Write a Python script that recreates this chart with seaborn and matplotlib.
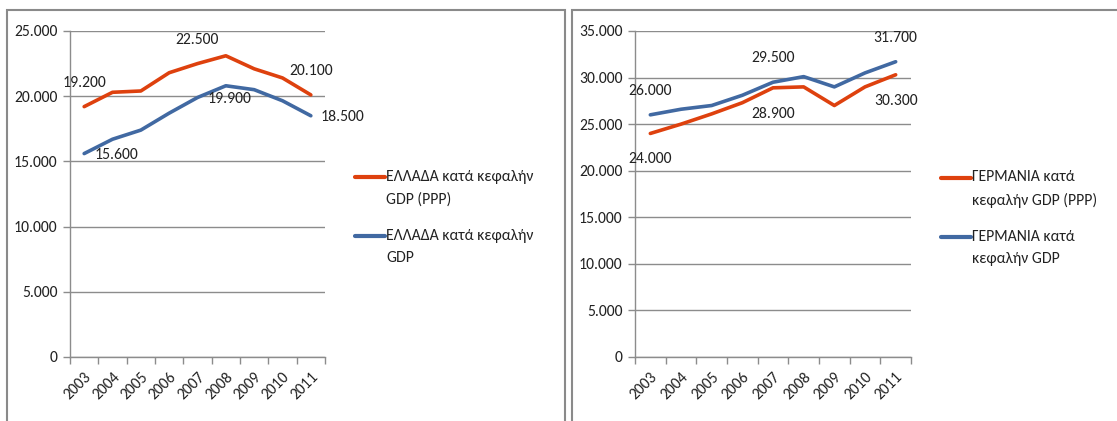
import numpy as np
import pandas as pd
import matplotlib
matplotlib.use('Agg')
import matplotlib.pyplot as plt
from matplotlib.patches import Rectangle
from matplotlib.lines import Line2D
from matplotlib.legend_handler import HandlerLine2D
from matplotlib.ticker import FuncFormatter
import seaborn as sns

years = ['2003', '2004', '2005', '2006', '2007', '2008', '2009', '2010', '2011']

# Greece, per capita
gr_ppp = [19200, 20300, 20400, 21800, 22500, 23100, 22100, 21400, 20100]
gr_gdp = [15600, 16700, 17400, 18700, 19900, 20800, 20500, 19650, 18500]
gr_names = ['ΕΛΛΑΔΑ κατά κεφαλήν\nGDP (PPP)', 'ΕΛΛΑΔΑ κατά κεφαλήν\nGDP']

# Germany, per capita
de_ppp = [24000, 25000, 26100, 27300, 28900, 29000, 27000, 29000, 30300]
de_gdp = [26000, 26600, 27000, 28100, 29500, 30100, 29000, 30500, 31700]
de_names = ['ΓΕΡΜΑΝΙΑ κατά\nκεφαλήν GDP (PPP)', 'ΓΕΡΜΑΝΙΑ κατά\nκεφαλήν GDP']

labelled = [0, 4, 8]

sns.set_theme(style='white')
plt.rcParams['font.family'] = ['Carlito', 'Liberation Sans', 'DejaVu Sans']

RED = '#DE410E'
BLUE = '#4169A2'
GREY = '#8C8C8C'
TXT = '#222222'
FS = 11.3


class FirstLineHandler(HandlerLine2D):
    # put the legend line next to the first text line, like excel does
    def create_artists(self, legend, orig_handle, xdescent, ydescent, width, height, fontsize, trans):
        arts = super().create_artists(legend, orig_handle, xdescent, ydescent, width, height, fontsize, trans)
        for a in arts:
            a.set_ydata(np.asarray(a.get_ydata()) + 8.0)
        return arts


def fmt(v, pos=None):
    return f'{int(round(v)):,}'.replace(',', '.')


def make_df(ppp, gdp, names):
    rows = []
    for i, y in enumerate(years):
        rows.append((i, ppp[i], names[0]))
        rows.append((i, gdp[i], names[1]))
    return pd.DataFrame(rows, columns=['idx', 'value', 'series'])


def draw_panel(ax, ppp, gdp, names, ymax, ppp_off, gdp_off, leg_xy):
    df = make_df(ppp, gdp, names)
    sns.lineplot(data=df, x='idx', y='value', hue='series', hue_order=names,
                 palette=[RED, BLUE], linewidth=2.6, legend=False, ax=ax)
    ax.set_xlim(-0.5, len(years) - 0.5)
    ax.set_ylim(0, ymax)
    ax.set_yticks(np.arange(0, ymax + 1, 5000))
    ax.yaxis.set_major_formatter(FuncFormatter(fmt))
    ax.set_xticks(range(len(years)))
    ax.set_xticklabels(years, rotation=45, ha='right', rotation_mode='anchor')
    ax.set_xticks(np.arange(-0.5, len(years)), minor=True)
    ax.tick_params(axis='x', which='major', length=0, pad=9, labelsize=FS, labelcolor=TXT)
    ax.tick_params(axis='x', which='minor', bottom=True, length=5, width=1, color=GREY)
    ax.tick_params(axis='y', left=True, length=5, width=1, color=GREY, pad=4,
                   labelsize=FS, labelcolor=TXT)
    ax.yaxis.grid(True, color=GREY, linewidth=1)
    ax.set_axisbelow(True)
    ax.set_xlabel('')
    ax.set_ylabel('')
    for s in ['top', 'right']:
        ax.spines[s].set_visible(False)
    for s in ['left', 'bottom']:
        ax.spines[s].set_color(GREY)
        ax.spines[s].set_linewidth(1)

    for i in labelled:
        ax.annotate(fmt(ppp[i]), (i, ppp[i]), xytext=ppp_off, textcoords='offset pixels',
                    ha='center', va='center', fontsize=FS, color=TXT)
        ax.annotate(fmt(gdp[i]), (i, gdp[i]), xytext=gdp_off, textcoords='offset pixels',
                    ha='center', va='center', fontsize=FS, color=TXT)

    handles = [Line2D([], [], color=RED, lw=3), Line2D([], [], color=BLUE, lw=3)]
    leg = fig.legend(handles, names, loc='upper left', bbox_to_anchor=leg_xy,
                     bbox_transform=fig.transFigure, frameon=False, borderpad=0,
                     handlelength=1.9, handletextpad=0.1, labelspacing=1.4, fontsize=FS,
                     handler_map={Line2D: FirstLineHandler()})
    for t in leg.get_texts():
        t.set_linespacing(1.75)
        t.set_color(TXT)


fig = plt.figure(figsize=(11.17, 4.21), dpi=100)
W, H = 1117, 421

# chart frames
fig.patches.append(Rectangle((7 / W, -0.1), (565 - 7) / W, 1.1 - 10 / H, transform=fig.transFigure,
                             fill=False, edgecolor='#8A8A8A', linewidth=1.5))
fig.patches.append(Rectangle((572 / W, -0.1), 0.6, 1.1 - 10 / H, transform=fig.transFigure,
                             fill=False, edgecolor='#8A8A8A', linewidth=1.5))

ax1 = fig.add_axes([70 / W, 1 - 357 / H, (325 - 70) / W, (357 - 31) / H])
ax2 = fig.add_axes([635 / W, 1 - 357 / H, (911 - 635) / W, (357 - 31) / H])

draw_panel(ax1, gr_ppp, gr_gdp, gr_names, 25000, (0, 24), (32, -1), (347 / W, 1 - 162 / H))
draw_panel(ax2, de_ppp, de_gdp, de_names, 35000, (0, -26), (0, 24), (933 / W, 1 - 162 / H))

fig.savefig('out.png', dpi=100)
